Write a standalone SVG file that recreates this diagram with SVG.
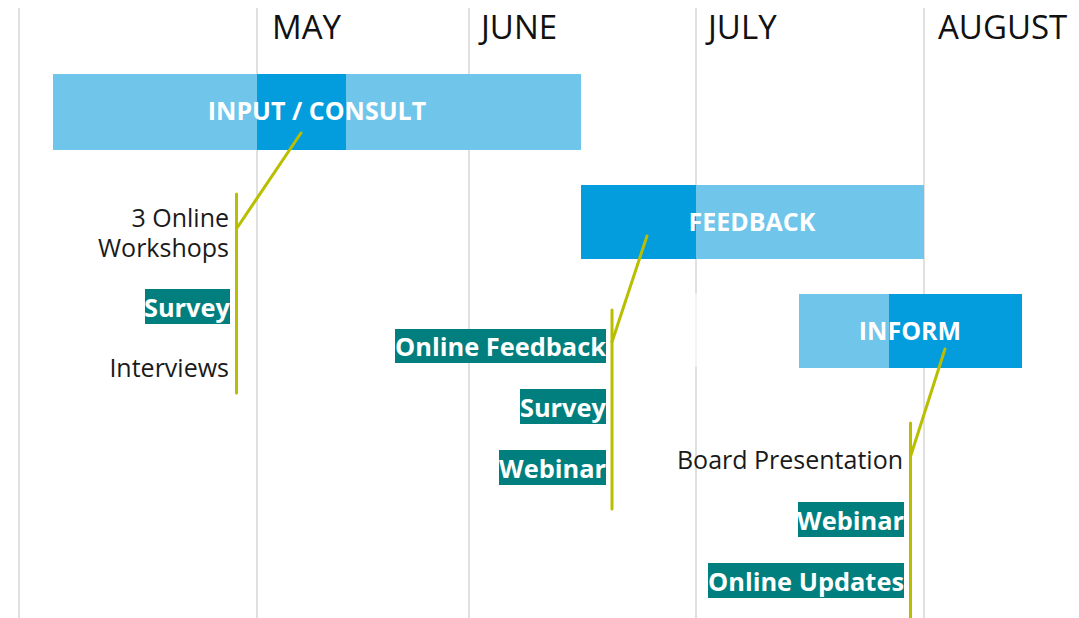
<svg xmlns="http://www.w3.org/2000/svg" width="1079" height="618" viewBox="0 0 1079 618">
<style>
.grid{stroke:#D6D6D6;stroke-width:1.5;fill:none}
.month{font-family:"Open Sans","Liberation Sans",sans-serif;font-size:33px;fill:#111}
.light{fill:#70C6EA}
.dark{fill:#039CDD}
.phase{font-family:"Open Sans","Liberation Sans",sans-serif;font-size:25px;font-weight:700;fill:#fff;text-anchor:middle}
.plain{font-family:"Open Sans","Liberation Sans",sans-serif;font-size:25px;fill:#1a1a1a;text-anchor:end}
.tag{fill:#007F7E}
.tagt{font-family:"Open Sans","Liberation Sans",sans-serif;font-size:25.4px;font-weight:700;fill:#fff;text-anchor:end}
.conn{stroke:#B9BF00;stroke-width:3;fill:none;stroke-linecap:round}
</style>
<rect width="1079" height="618" fill="#fff"/>
<g id="grid">
<line class="grid" x1="19" y1="8" x2="19" y2="618"/>
<line class="grid" x1="257" y1="8" x2="257" y2="618"/>
<line class="grid" x1="469" y1="8" x2="469" y2="618"/>
<line class="grid" x1="696" y1="8" x2="696" y2="293"/>
<line x1="696" y1="293" x2="696" y2="367" stroke="#EFEFEF" stroke-width="1.5"/>
<line class="grid" x1="696" y1="367" x2="696" y2="618"/>
<line class="grid" x1="924" y1="8" x2="924" y2="618"/>
</g>
<g id="months">
<text class="month" x="272" y="39">MAY</text>
<text class="month" x="481" y="39">JUNE</text>
<text class="month" x="708" y="39">JULY</text>
<text class="month" x="938" y="39">AUGUST</text>
</g>
<g id="input-consult">
<rect class="light" x="53" y="74" width="528" height="76"/>
<rect class="dark" x="257" y="74" width="89" height="76"/>
<text class="phase" x="317" y="120">INPUT / CONSULT</text>
</g>
<g id="feedback">
<rect class="light" x="581" y="185" width="343" height="74"/>
<rect class="dark" x="581" y="185" width="115" height="74"/>
<text class="phase" x="752" y="231">FEEDBACK</text>
</g>
<g id="inform">
<rect class="light" x="799" y="294" width="223" height="74"/>
<rect class="dark" x="889" y="294" width="133" height="74"/>
<text class="phase" x="910" y="340">INFORM</text>
</g>
<g id="connectors">
<path class="conn" d="M301 133 L237 228"/>
<line class="conn" x1="236.5" y1="194" x2="236.5" y2="393"/>
<path class="conn" d="M647 236 L612 342"/>
<line class="conn" x1="612" y1="310" x2="612" y2="509"/>
<path class="conn" d="M945 349 L911 455"/>
<line class="conn" x1="910.5" y1="423" x2="910.5" y2="620"/>
</g>
<g id="consult-items">
<text class="plain" x="229" y="227"><tspan x="229" y="227">3 Online</tspan><tspan x="229" y="257">Workshops</tspan></text>
<rect class="tag" x="145" y="289" width="85" height="35"/>
<text class="tagt" x="230" y="317">Survey</text>
<text class="plain" x="229" y="377">Interviews</text>
</g>
<g id="feedback-items">
<rect class="tag" x="395" y="329" width="211" height="34"/>
<text class="tagt" x="606" y="356">Online Feedback</text>
<rect class="tag" x="520" y="389" width="86" height="35"/>
<text class="tagt" x="606" y="417">Survey</text>
<rect class="tag" x="499" y="450" width="107" height="35"/>
<text class="tagt" x="606" y="478">Webinar</text>
</g>
<g id="inform-items">
<text class="plain" x="903" y="469">Board Presentation</text>
<rect class="tag" x="798" y="502" width="106" height="35"/>
<text class="tagt" x="904" y="530">Webinar</text>
<rect class="tag" x="708" y="563" width="196" height="35"/>
<text class="tagt" x="904" y="591">Online Updates</text>
</g>
</svg>
